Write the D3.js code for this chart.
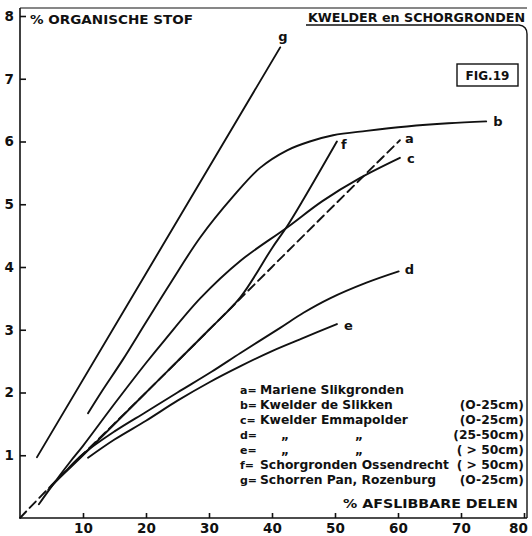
<!DOCTYPE html>
<html>
<head>
<meta charset="utf-8">
<script src="https://cdn.jsdelivr.net/npm/d3@7"></script>
<style>
  body { margin: 0; background: #fff; }
  svg { display: block; }
  text { font-family: "DejaVu Sans", sans-serif; font-weight: bold; fill: #111; }
  .axis path, .axis line { stroke: #111; stroke-width: 1.6; }
  .curve { fill: none; stroke: #111; stroke-width: 1.9; stroke-linecap: round; }
</style>
</head>
<body>
<div id="chart"></div>
<script>
// waarden (x = % afslibbare delen, y = % organische stof)
const curveA = [[0, 0], [5, 0.52], [20, 2.0], [35, 3.5], [45, 4.5], [60.3, 6.02]];
const curveB = [[10.8, 1.67], [13, 2.02], [16.3, 2.52], [20, 3.12], [23.8, 3.73], [28.6, 4.47],
  [33.8, 5.12], [38.1, 5.58], [42.4, 5.86], [46, 6.0], [49.7, 6.1], [55, 6.17], [61.4, 6.24], [68, 6.29], [74, 6.32]];
const curveC = [[3, 0.22], [5, 0.5], [8, 0.9], [10, 1.15], [15, 1.82], [20, 2.47], [23, 2.84],
  [28.6, 3.5], [35, 4.1], [42.4, 4.63], [48, 5.05], [54, 5.42], [60.3, 5.74]];
const curveD = [[4.5, 0.45], [7, 0.72], [10, 1.02], [15, 1.38], [20, 1.69], [25, 2.0], [30.4, 2.33],
  [35, 2.63], [41.3, 3.03], [45, 3.27], [49.2, 3.5], [55, 3.75], [60.1, 3.93]];
const curveE = [[10.8, 0.96], [15, 1.25], [20, 1.55], [25, 1.87], [30, 2.16], [35, 2.42],
  [40, 2.66], [45, 2.87], [50.3, 3.09]];
const curveF = [[5, 0.52], [10, 1.0], [20, 2.0], [30, 3.0], [35, 3.52], [40, 4.3], [42.4, 4.65],
  [45, 5.08], [50.3, 6.0]];
const curveG = [[2.7, 0.97], [41.3, 7.5]];

const curveKeys = ['a', 'b', 'c', 'd', 'e', 'f', 'g'];
const curveSets = [curveA, curveB, curveC, curveD, curveE, curveF, curveG];

const xTicks = [10, 20, 30, 40, 50, 60, 70, 80];
const yTicks = [1, 2, 3, 4, 5, 6, 7, 8];

const legendKeys = ['a', 'b', 'c', 'd', 'e', 'f', 'g'];
const legendNames = ['Mariene Slikgronden', 'Kwelder de Slikken', 'Kwelder Emmapolder', '„', '„',
  'Schorgronden Ossendrecht', 'Schorren Pan, Rozenburg'];
const legendDepths = ['', '(O-25cm)', '(O-25cm)', '(25-50cm)', '( > 50cm)', '( > 50cm)', '(O-25cm)'];

const W = 532, H = 536;

const svg = d3.select('#chart').append('svg')
  .attr('width', W)
  .attr('height', H);

// schalen
const x = d3.scaleLinear().domain([0, 80]).range([20, 524]);
const y = d3.scaleLinear().domain([0, 8]).range([518, 16]);

// kader: bovenlijn en rechterlijn met afgeronde hoek
svg.append('line')
  .attr('x1', 20).attr('x2', 527).attr('y1', 8).attr('y2', 8)
  .attr('stroke', '#111').attr('stroke-width', 1.2);
svg.append('path')
  .attr('d', 'M306,25 L519,25 Q527,26 527,34 L527,518')
  .attr('fill', 'none').attr('stroke', '#111').attr('stroke-width', 1.4);

// assen
const xAxis = d3.axisBottom(x).tickValues(xTicks).tickSizeInner(-5).tickSizeOuter(0).tickPadding(5);
const yAxis = d3.axisLeft(y).tickValues(yTicks).tickSizeInner(-6).tickSizeOuter(0).tickPadding(6);

const xAxisG = svg.append('g')
  .attr('class', 'axis')
  .attr('transform', `translate(0,${y(0)})`)
  .call(xAxis);
xAxisG.select('.domain').attr('d', `M${x(0)},0H527`);
xAxisG.selectAll('text').style('font-size', '13.5px').attr('fill', '#111');
xAxisG.selectAll('.tick').filter(d => d === 80).select('text').attr('dx', -6);

const yAxisG = svg.append('g')
  .attr('class', 'axis')
  .attr('transform', `translate(${x(0)},0)`)
  .call(yAxis);
yAxisG.select('.domain').attr('d', `M0,8V${y(0)}`);
yAxisG.selectAll('text').style('font-size', '13.5px').attr('fill', '#111');

// curves
const line = d3.line()
  .x(d => x(d[0]))
  .y(d => y(d[1]))
  .curve(d3.curveCatmullRom.alpha(0.5));

svg.selectAll('.curve')
  .data(curveSets)
  .join('path')
  .attr('class', 'curve')
  .attr('d', line)
  .attr('stroke-dasharray', (d, i) => curveKeys[i] === 'a' ? '9,5' : null);

// letters bij de curve-uiteinden
const labelShift = { a: [5, -2], b: [7, 0], c: [7, 1], d: [6, -2], e: [7, 1], f: [4, 3], g: [-2, -11] };
svg.selectAll('.curve-label')
  .data(curveSets)
  .join('text')
  .attr('class', 'curve-label')
  .attr('x', (d, i) => x(d[d.length - 1][0]) + labelShift[curveKeys[i]][0])
  .attr('y', (d, i) => y(d[d.length - 1][1]) + labelShift[curveKeys[i]][1])
  .attr('dy', '0.35em')
  .style('font-size', '13px')
  .text((d, i) => curveKeys[i]);

// titels
svg.append('text')
  .attr('x', 30).attr('y', 24)
  .attr('textLength', 163).attr('lengthAdjust', 'spacingAndGlyphs')
  .style('font-size', '13px')
  .text('% ORGANISCHE STOF');

svg.append('text')
  .attr('x', 308).attr('y', 22)
  .attr('textLength', 217).attr('lengthAdjust', 'spacingAndGlyphs')
  .style('font-size', '12.5px')
  .text('KWELDER en SCHORGRONDEN');

svg.append('rect')
  .attr('x', 457).attr('y', 64).attr('width', 61).attr('height', 22)
  .attr('fill', 'none').attr('stroke', '#111').attr('stroke-width', 1.4);
svg.append('text')
  .attr('x', 487.5).attr('y', 79.5)
  .attr('text-anchor', 'middle')
  .style('font-size', '12px')
  .text('FIG.19');

svg.append('text')
  .attr('x', 343).attr('y', 508)
  .attr('textLength', 175).attr('lengthAdjust', 'spacingAndGlyphs')
  .style('font-size', '13px')
  .text('% AFSLIBBARE DELEN');

// legenda
const legend = svg.append('g').style('font-size', '12.3px');
const rowY = i => 394 + i * 15;

legend.selectAll('.lk')
  .data(legendKeys)
  .join('text')
  .attr('x', 240).attr('y', (d, i) => rowY(i))
  .style('font-size', '11px')
  .text(d => d + '=');

legend.selectAll('.ln')
  .data(legendNames)
  .join('text')
  .attr('x', d => d === '„' ? 281 : 260)
  .attr('y', (d, i) => rowY(i))
  .text(d => d);

// tweede aanhalingsteken voor d en e onder "Emmapolder"
legend.selectAll('.ditto')
  .data(legendNames.filter(d => d === '„'))
  .join('text')
  .attr('x', 355).attr('y', (d, i) => rowY(3 + i))
  .text(d => d);

legend.selectAll('.ld')
  .data(legendDepths)
  .join('text')
  .attr('x', 524).attr('y', (d, i) => rowY(i))
  .attr('text-anchor', 'end')
  .text(d => d);
</script>
</body>
</html>
